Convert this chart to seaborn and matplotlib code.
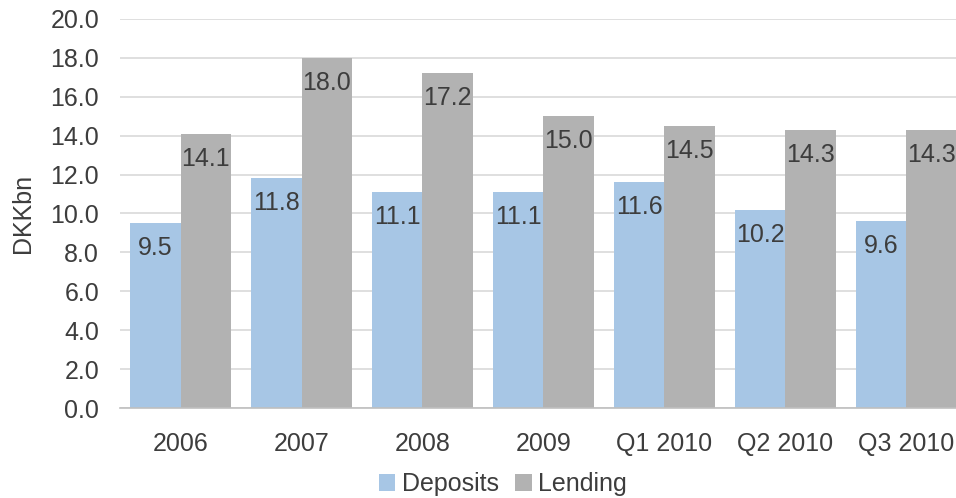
import matplotlib
matplotlib.use("Agg")
import matplotlib.pyplot as plt
import seaborn as sns
import pandas as pd

categories = ["2006", "2007", "2008", "2009", "Q1 2010", "Q2 2010", "Q3 2010"]
deposits = [9.5, 11.8, 11.1, 11.1, 11.6, 10.2, 9.6]
lending = [14.1, 18.0, 17.2, 15.0, 14.5, 14.3, 14.3]
series_names = ["Deposits", "Lending"]
yticks = [0, 2, 4, 6, 8, 10, 12, 14, 16, 18, 20]

df = pd.DataFrame({
    "period": categories * 2,
    "value": deposits + lending,
    "series": [series_names[0]] * len(categories) + [series_names[1]] * len(categories),
})

sns.set_theme(style="white")
plt.rcParams["font.family"] = ["Liberation Sans", "DejaVu Sans"]
text_color = "#3d3d3d"
fs = 18

fig = plt.figure(figsize=(9.56, 4.98), dpi=100)
ax = fig.add_axes([120 / 956, 90 / 498, 847 / 956, 389 / 498])

palette = {"Deposits": "#a7c6e5", "Lending": "#b2b2b2"}
sns.barplot(data=df, x="period", y="value", hue="series", palette=palette,
            width=0.835, saturation=1, linewidth=0, ax=ax, legend=True, zorder=3)

ax.set_ylim(0, 20)
ax.set_xlim(-0.5, len(categories) - 0.5)
ax.set_yticks(yticks)
ax.set_yticklabels([f"{v:.1f}" for v in yticks])
ax.yaxis.grid(True, color="#d9d9d9", linewidth=1.2, zorder=0)
ax.set_axisbelow(True)
for side in ["left", "right", "top"]:
    ax.spines[side].set_visible(False)
ax.spines["bottom"].set_color("#bfbfbf")
ax.spines["bottom"].set_linewidth(1.2)
ax.spines["bottom"].set_zorder(4)
ax.tick_params(axis="both", length=0, labelsize=fs, colors=text_color)
ax.tick_params(axis="x", pad=17)
ax.tick_params(axis="y", pad=15)
ax.set_xlabel("")
ax.set_ylabel("DKKbn", fontsize=fs, color=text_color, labelpad=11)

# value labels sit just inside the top of each bar
for container in ax.containers:
    for patch, v in zip(container.patches, container.datavalues):
        ax.annotate(f"{v:.1f}", (patch.get_x() + patch.get_width() / 2, v),
                    xytext=(0, -18), textcoords="offset points",
                    ha="center", va="center", fontsize=fs, color=text_color, zorder=5)

handles, labels = ax.get_legend_handles_labels()
ax.get_legend().remove()
fig.legend(handles, labels, loc="center", bbox_to_anchor=(503 / 956, 14 / 498),
           ncol=2, frameon=False, fontsize=fs, handlelength=0.65, handleheight=0.65,
           handletextpad=0.28, columnspacing=0.65, labelcolor=text_color,
           borderpad=0, borderaxespad=0)

fig.savefig("out.png", dpi=100)
